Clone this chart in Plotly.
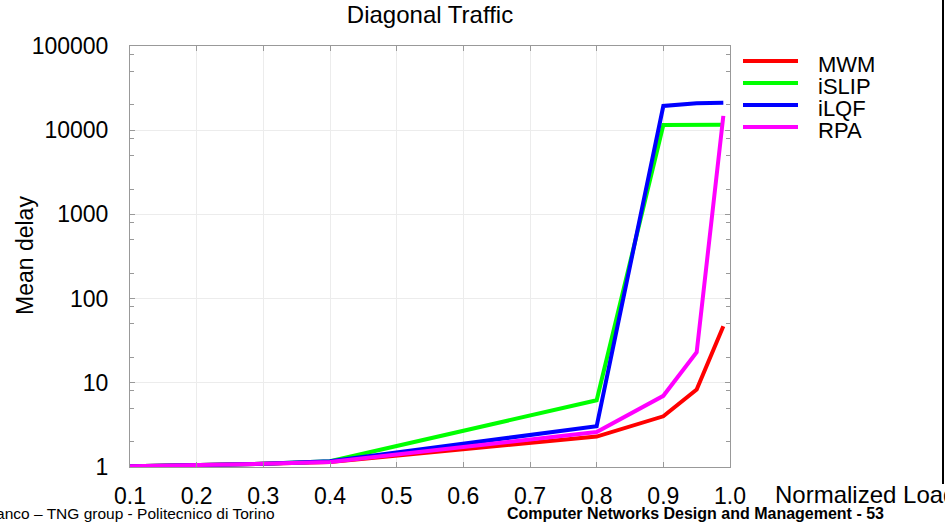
import plotly.graph_objects as go

# ---- data ----
load = [0.1, 0.2, 0.3, 0.4, 0.8, 0.9, 0.95, 0.99]
mwm = [1.02, 1.05, 1.09, 1.15, 2.3, 4.0, 8.3, 47]
islip = [1.02, 1.05, 1.09, 1.17, 6.2, 11500, 11600, 11600]
ilqf = [1.02, 1.05, 1.09, 1.17, 3.05, 19400, 20900, 21200]
rpa = [1.02, 1.05, 1.09, 1.15, 2.6, 7.0, 23, 14800]

series_names = ["MWM", "iSLIP", "iLQF", "RPA"]
series_values = [mwm, islip, ilqf, rpa]
series_colors = ["#ff0000", "#00ff00", "#0000ff", "#ff00ff"]

x_ticks = [0.1, 0.2, 0.3, 0.4, 0.5, 0.6, 0.7, 0.8, 0.9, 1.0]
y_ticks = [1, 10, 100, 1000, 10000, 100000]
y_minor = [m * 10 ** d for d in range(5) for m in (2, 5, 8)]

FONT = "Liberation Sans, Arial, sans-serif"
W, H = 945, 524
L, R, T, B = 130, 215, 46, 57
PW, PH = W - L - R, H - T - B


def px_x(px):
    return (px - L) / PW


def px_y(py):
    return (H - B - py) / PH


fig = go.Figure()
for name, vals, col in zip(series_names, series_values, series_colors):
    fig.add_trace(go.Scatter(x=load, y=vals, mode="lines", name=name,
                             line=dict(color=col, width=4), showlegend=False))

# custom legend (tight spacing as in the reference)
shapes = []
annotations = []
for i, (name, col) in enumerate(zip(series_names, series_colors)):
    yc = 61 + i * 22
    shapes.append(dict(type="line", xref="paper", yref="paper",
                       x0=px_x(743), x1=px_x(798), y0=px_y(yc), y1=px_y(yc),
                       line=dict(color=col, width=4)))
    annotations.append(dict(text=name, xref="paper", yref="paper",
                            x=px_x(816), y=px_y(yc + 3), xanchor="left", yanchor="middle",
                            showarrow=False, font=dict(size=22, color="#000", family=FONT)))

# right border line of the slide
shapes.append(dict(type="line", xref="paper", yref="paper",
                   x0=px_x(943), x1=px_x(943), y0=px_y(0), y1=px_y(484),
                   line=dict(color="#000", width=2)))

annotations += [
    dict(text="Normalized Load", xref="paper", yref="paper", x=px_x(773), y=px_y(494),
         xanchor="left", yanchor="middle", showarrow=False,
         font=dict(size=24, color="#000", family=FONT)),
    dict(text="Mean delay", xref="paper", yref="paper", x=px_x(25), y=px_y(256),
         xanchor="center", yanchor="middle", textangle=-90, showarrow=False,
         font=dict(size=23, color="#000", family=FONT)),
    dict(text="Andrea Bianco – TNG group - Politecnico di Torino", xref="paper", yref="paper",
         x=px_x(277), y=px_y(513), xanchor="right", yanchor="middle", showarrow=False,
         font=dict(size=15.5, color="#000", family=FONT)),
    dict(text="<b>Computer Networks Design and Management - 53</b>", xref="paper", yref="paper",
         x=px_x(505), y=px_y(513), xanchor="left", yanchor="middle", showarrow=False,
         font=dict(size=16, color="#000", family=FONT)),
]

fig.update_layout(
    width=W, height=H,
    margin=dict(l=L, r=R, t=T, b=B),
    paper_bgcolor="white", plot_bgcolor="white",
    font=dict(family=FONT, color="#000", size=23),
    title=dict(text="Diagonal Traffic", x=430 / W, xanchor="center",
               y=1 - 15 / H, yanchor="middle", font=dict(size=24, family=FONT, color="#000")),
    shapes=shapes,
    annotations=annotations,
    showlegend=False,
)

fig.update_xaxes(range=[0.1, 1.0], tickvals=x_ticks, tickformat=".1f",
                 showgrid=True, gridcolor="#ececec", gridwidth=1,
                 showline=True, linecolor="#999", linewidth=1, mirror="ticks",
                 ticks="inside", ticklen=5, tickcolor="#999",
                 ticklabelstandoff=8, tickfont=dict(size=23, family=FONT, color="#000"),
                 zeroline=False)
fig.update_yaxes(type="log", range=[0, 5], tickvals=y_ticks, ticktext=[str(v) for v in y_ticks],
                 showgrid=True, gridcolor="#ececec", gridwidth=1,
                 showline=True, linecolor="#999", linewidth=1, mirror="ticks",
                 ticks="inside", ticklen=5, tickcolor="#999",
                 minor=dict(tickvals=y_minor, ticks="inside", ticklen=4, tickcolor="#999", showgrid=False),
                 ticklabelstandoff=16, tickfont=dict(size=23, family=FONT, color="#000"),
                 zeroline=False)

fig.write_html("out.html", config={"displayModeBar": False},
               post_script="document.body.style.margin='0';document.body.style.overflow='hidden';")
